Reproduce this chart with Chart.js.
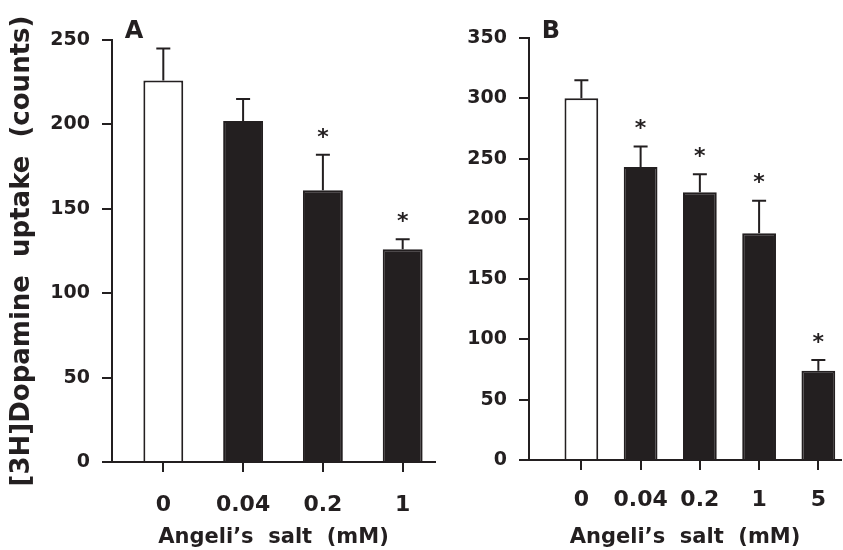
<!DOCTYPE html>
<html>
<head>
<meta charset="utf-8">
<script src="https://cdn.jsdelivr.net/npm/chart.js@4.4.0/dist/chart.umd.min.js"></script>
<style>
  body { margin: 0; background: #fff; }
  #wrap { position: relative; width: 843px; height: 550px; }
  canvas { position: absolute; top: 0; }
  #chartA { left: 0; }
  #chartB { left: 462px; }
</style>
</head>
<body>
<div id="wrap">
  <canvas id="chartA" width="462" height="550"></canvas>
  <canvas id="chartB" width="381" height="550"></canvas>
</div>
<script>
// panel A
const doseA = ["0", "0.04", "0.2", "1"];
const uptakeA = [226, 202, 161, 126];
const semA = [19, 13, 21, 6];
const sigA = [false, false, true, true];

// panel B
const doseB = ["0", "0.04", "0.2", "1", "5"];
const uptakeB = [300, 243, 222, 188, 74];
const semB = [15, 17, 15, 27, 9];
const sigB = [false, true, true, true, true];

const ink = "#231f20";
const face = "DejaVu Sans";

// error bars, stars and the panel letter
function errorBars(sem, sig, letter) {
  return {
    id: "errorBars",
    afterDatasetsDraw(chart) {
      const ctx = chart.ctx;
      const y = chart.scales.y;
      const pts = chart.data.datasets[0].data;
      ctx.save();
      ctx.strokeStyle = ink;
      ctx.fillStyle = ink;
      ctx.lineWidth = 2;
      chart.getDatasetMeta(0).data.forEach((bar, i) => {
        const top = y.getPixelForValue(pts[i].y + sem[i]);
        ctx.beginPath();
        ctx.moveTo(bar.x, bar.y);
        ctx.lineTo(bar.x, top);
        ctx.moveTo(bar.x - 7, top);
        ctx.lineTo(bar.x + 7, top);
        ctx.stroke();
        if (sig[i]) {
          ctx.font = `bold 22px ${face}`;
          ctx.textAlign = "center";
          ctx.textBaseline = "middle";
          ctx.fillText("*", bar.x, top - 17);
        }
      });
      ctx.font = `bold 24px ${face}`;
      ctx.textAlign = "center";
      ctx.textBaseline = "alphabetic";
      ctx.fillText(letter, chart.chartArea.left + 22, 38);
      ctx.restore();
    },
  };
}

function makeChart(id, doses, uptake, sem, sig, letter, box) {
  return new Chart(document.getElementById(id), {
    type: "bar",
    data: {
      datasets: [
        {
          data: doses.map((d, i) => ({ x: i, y: uptake[i] })),
          backgroundColor: (c) => (c.dataIndex === 0 ? "#fff" : ink),
          borderColor: ink,
          borderWidth: 2,
          categoryPercentage: 1,
          barPercentage: box.bar,
        },
      ],
    },
    options: {
      responsive: false,
      animation: false,
      layout: { padding: { top: box.top, right: box.right, left: 0, bottom: 0 } },
      plugins: { legend: { display: false }, tooltip: { enabled: false } },
      scales: {
        x: {
          type: "linear",
          offset: false,
          min: box.xmin,
          max: box.xmax,
          afterBuildTicks: (s) => {
            s.ticks = doses.map((d, i) => ({ value: i }));
          },
          afterFit: (s) => {
            s.height = box.xh;
          },
          ticks: {
            autoSkip: false,
            maxRotation: 0,
            padding: box.xpad,
            color: ink,
            font: { family: face, size: 22, weight: "bold" },
            callback: (v, i) => doses[i],
          },
          grid: { offset: false, drawOnChartArea: false, tickLength: 10, lineWidth: 2, color: ink },
          border: { color: ink, width: 2 },
          title: {
            display: true,
            text: "Angeli’s  salt  (mM)",
            color: ink,
            font: { family: face, size: 21, weight: "bold" },
            padding: { top: box.tpad, bottom: 0 },
          },
        },
        y: {
          min: 0,
          max: box.ymax,
          afterFit: (s) => {
            s.width = box.yw;
          },
          ticks: {
            stepSize: 50,
            padding: 12,
            color: ink,
            font: { family: face, size: 19, weight: "bold" },
          },
          grid: { drawOnChartArea: false, tickLength: 10, lineWidth: 2, color: ink },
          border: { color: ink, width: 2 },
          title: {
            display: box.ytitle !== "",
            text: box.ytitle,
            color: ink,
            font: { family: face, size: 26, weight: "bold" },
            padding: { top: 7, bottom: 0 },
          },
        },
      },
    },
    plugins: [errorBars(sem, sig, letter)],
  });
}

makeChart("chartA", doseA, uptakeA, semA, sigA, "A", {
  top: 40, right: 27, xh: 88, yw: 112, xmin: -0.643, xmax: 3.405,
  bar: 0.5, ymax: 250, xpad: 20, tpad: 1,
  ytitle: "[3H]Dopamine  uptake  (counts)",
});

makeChart("chartB", doseB, uptakeB, semB, sigB, "B", {
  top: 38, right: 0, xh: 90, yw: 67, xmin: -0.884, xmax: 4.384,
  bar: 0.57, ymax: 350, xpad: 17, tpad: 5,
  ytitle: "",
});
</script>
</body>
</html>
